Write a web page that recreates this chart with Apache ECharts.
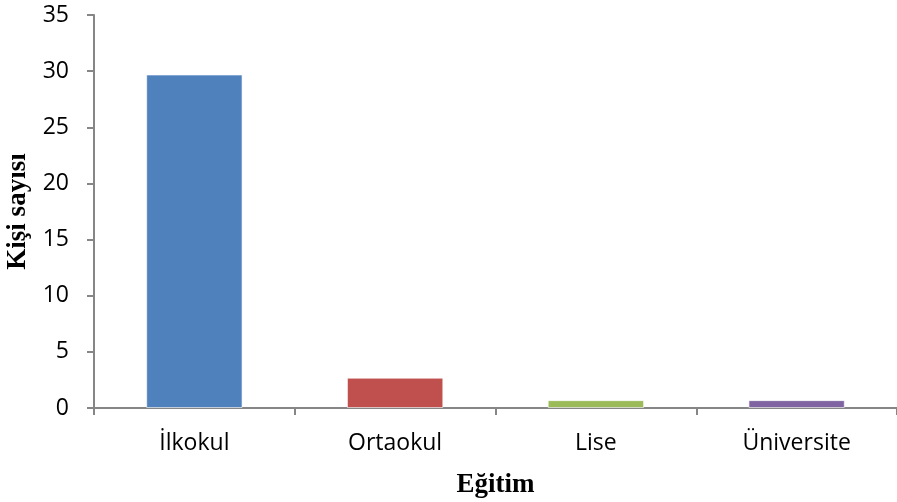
<!DOCTYPE html>
<html>
<head>
<meta charset="utf-8">
<script src="https://cdn.jsdelivr.net/npm/echarts@6/dist/echarts.min.js"></script>
<style>
  html, body { margin: 0; padding: 0; background: #fff; }
  #chart { width: 897px; height: 502px; }
</style>
</head>
<body>
<div id="chart"></div>
<script>
const categories = ["İlkokul", "Ortaokul", "Lise", "Üniversite"];
const values = [29.7, 2.7, 0.7, 0.7];
const barColors = ["#4F81BD", "#C0504D", "#9BBB59", "#8064A2"];
const yTicks = { min: 0, max: 35, interval: 5 };

const chart = echarts.init(document.getElementById("chart"));

const axisColor = "#868686";
const labelFont = "'Open Sans', 'Noto Sans', sans-serif";
const titleFont = "'Liberation Serif', 'DejaVu Serif', serif";

chart.setOption({
  animation: false,
  grid: { left: 94, right: 0, top: 15, bottom: 94, outerBoundsMode: "none" },
  xAxis: {
    type: "category",
    data: categories,
    name: "Eğitim",
    nameLocation: "middle",
    nameGap: 64,
    nameTextStyle: { fontFamily: titleFont, fontWeight: "bold", fontSize: 27, color: "#000" },
    axisLine: { lineStyle: { color: axisColor, width: 2 } },
    axisTick: { show: true, length: 7, lineStyle: { color: axisColor, width: 2 } },
    axisLabel: { fontFamily: labelFont, fontSize: 23, color: "#000", margin: 24 }
  },
  yAxis: {
    type: "value",
    min: yTicks.min,
    max: yTicks.max,
    interval: yTicks.interval,
    name: "Kişi sayısı",
    nameLocation: "middle",
    nameGap: 60,
    nameTextStyle: { fontFamily: titleFont, fontWeight: "bold", fontSize: 27, color: "#000" },
    axisLine: { show: true, lineStyle: { color: axisColor, width: 2 } },
    axisTick: { show: true, length: 7, lineStyle: { color: axisColor, width: 2 } },
    axisLabel: { fontFamily: labelFont, fontSize: 23, color: "#000", margin: 25 },
    splitLine: { show: false }
  },
  series: [{
    type: "bar",
    data: values,
    barWidth: "48%",
    itemStyle: {
      color: (p) => barColors[p.dataIndex],
      borderColor: "rgba(255,255,255,0.6)",
      borderWidth: 1
    }
  }]
});
</script>
</body>
</html>
